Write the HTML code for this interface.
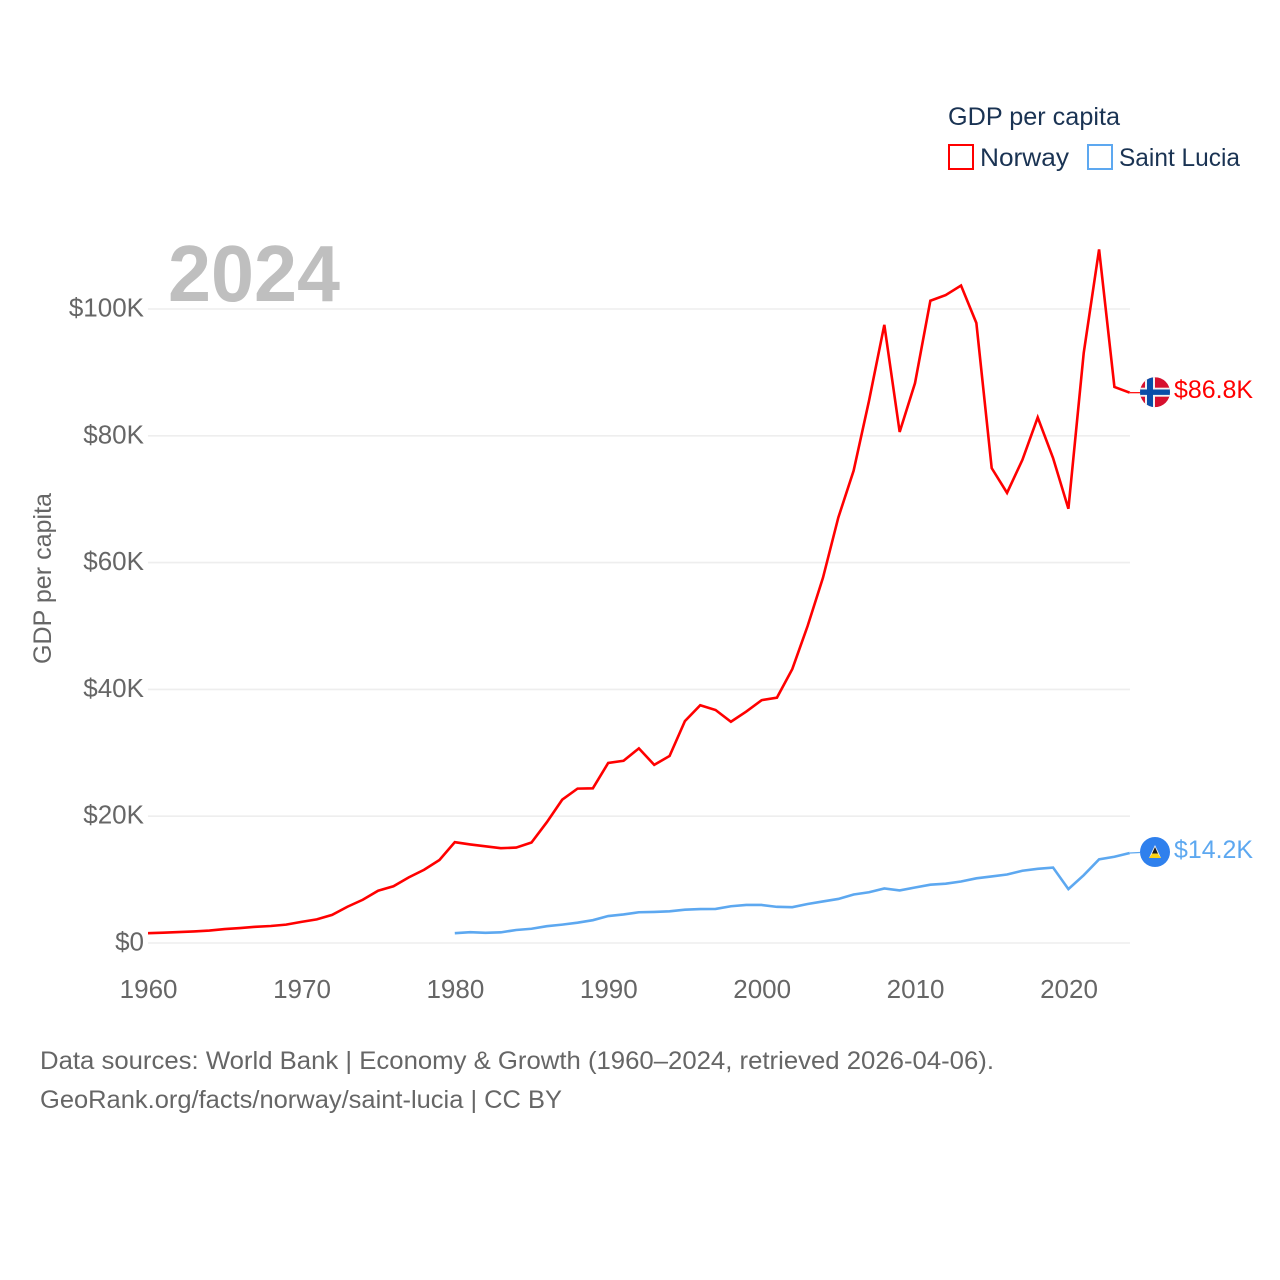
<!DOCTYPE html>
<html lang="en">
<head>
<meta charset="utf-8">
<title>GDP per capita: Norway and Saint Lucia</title>
<style>
html,body{margin:0;padding:0;background:#fff;width:1280px;height:1280px;overflow:hidden}
svg{display:block}
text{font-family:"Liberation Sans",sans-serif}
</style>
</head>
<body>
<svg id="chart" xmlns="http://www.w3.org/2000/svg" width="1280" height="1280" viewBox="0 0 1280 1280">
  <defs>
    <clipPath id="flag-clip-no"><circle cx="0" cy="0" r="15"/></clipPath>
    <clipPath id="flag-clip-lc"><circle cx="0" cy="0" r="15"/></clipPath>
  </defs>
  <rect width="1280" height="1280" fill="#fff"/>
  <g id="grid"></g>
  <g id="yticks"></g>
  <g id="xticks"></g>
  <text x="168" y="301" font-size="80" font-weight="700" fill="#bfbfbf" textLength="172" lengthAdjust="spacingAndGlyphs">2024</text>
  <text transform="translate(51,664) rotate(-90)" font-size="25" fill="#666" textLength="171" lengthAdjust="spacingAndGlyphs">GDP per capita</text>
  <g id="series"></g>
  <g id="ends"></g>

  <g>
    <text x="948" y="125" font-size="25" fill="#1a3353" textLength="172" lengthAdjust="spacingAndGlyphs">GDP per capita</text>
    <rect x="949" y="145" width="24" height="24" fill="none" stroke="#ff0000" stroke-width="2"/>
    <text x="980" y="166" font-size="25" fill="#1a3353" textLength="89" lengthAdjust="spacingAndGlyphs">Norway</text>
    <rect x="1088" y="145" width="24" height="24" fill="none" stroke="#5da8f0" stroke-width="2"/>
    <text x="1119" y="166" font-size="25" fill="#1a3353" textLength="121" lengthAdjust="spacingAndGlyphs">Saint Lucia</text>
  </g>

  <g>
    <text x="40" y="1069" font-size="25" fill="#666" textLength="954" lengthAdjust="spacingAndGlyphs">Data sources: World Bank | Economy &amp; Growth (1960–2024, retrieved 2026-04-06).</text>
    <text x="40" y="1108" font-size="25" fill="#666" textLength="522" lengthAdjust="spacingAndGlyphs">GeoRank.org/facts/norway/saint-lucia | CC BY</text>
  </g>
</svg>
<script>
const yTickValues = [0, 20, 40, 60, 80, 100];
const yTickLabels = ["$0", "$20K", "$40K", "$60K", "$80K", "$100K"];
const xTickYears = [1960, 1970, 1980, 1990, 2000, 2010, 2020];
const norwayStartYear = 1960;
const norwayValues = [1.55,1.62,1.72,1.82,1.96,2.2,2.36,2.55,2.68,2.9,3.33,3.73,4.43,5.72,6.82,8.25,8.95,10.35,11.55,13.1,15.9,15.55,15.25,14.95,15.05,15.85,19.05,22.6,24.35,24.4,28.4,28.75,30.7,28.1,29.5,35.0,37.5,36.75,34.9,36.5,38.3,38.7,43.2,50.0,57.6,67.1,74.5,85.5,97.5,80.6,88.3,101.3,102.2,103.7,97.8,74.9,71.0,76.2,82.9,76.5,68.5,93.1,109.4,87.7,86.8];
const luciaStartYear = 1980;
const luciaValues = [1.55,1.7,1.6,1.68,2.05,2.25,2.65,2.9,3.2,3.6,4.25,4.5,4.85,4.9,5.0,5.25,5.35,5.38,5.8,6.0,6.0,5.7,5.65,6.15,6.55,6.95,7.65,8.0,8.6,8.3,8.75,9.2,9.35,9.7,10.2,10.5,10.8,11.4,11.7,11.9,8.5,10.7,13.2,13.6,14.2];

const NS = "http://www.w3.org/2000/svg";
const xScale = function (year) { return 148 + (year - 1960) * 15.34; };
const yScale = function (v) { return 943 - v * 6.34; };
const make = function (tag, parent) {
  const el = document.createElementNS(NS, tag);
  parent.appendChild(el);
  return el;
};
const set = function (el, attrs) {
  Object.keys(attrs).forEach(function (k) { el.setAttribute(k, attrs[k]); });
  return el;
};
const linePoints = function (values, start) {
  return values.map(function (v, i) {
    return xScale(start + i).toFixed(2) + "," + yScale(v).toFixed(2);
  }).join(" ");
};
const money = function (v) { return "$" + v.toFixed(1) + "K"; };

const gridG = document.getElementById("grid");
const yG = document.getElementById("yticks");
const xG = document.getElementById("xticks");
const seriesG = document.getElementById("series");
const endsG = document.getElementById("ends");

yTickValues.forEach(function (v, i) {
  const g = make("line", gridG);
  
  
  set(g, { x1: 148, x2: 1130, y1: yScale(v), y2: yScale(v), stroke: "#eeeeee", "stroke-width": 1.6 });
  const t = make("text", yG);
  
  
  set(t, { x: 144, y: yScale(v) + 7.5, "text-anchor": "end", "font-size": 26, fill: "#666" });
  t.textContent = yTickLabels[i];
});

xTickYears.forEach(function (yr) {
  const t = make("text", xG);
  
  
  set(t, { x: xScale(yr) + 0.6, y: 998, "text-anchor": "middle", "font-size": 26, fill: "#666" });
  t.textContent = String(yr);
});

const norwayLine = make("polyline", seriesG);


set(norwayLine, { points: linePoints(norwayValues, norwayStartYear), fill: "none", stroke: "#ff0000", "stroke-width": 2.6, "stroke-linejoin": "miter" });

const luciaLine = make("polyline", seriesG);


set(luciaLine, { points: linePoints(luciaValues, luciaStartYear), fill: "none", stroke: "#5da8f0", "stroke-width": 2.6, "stroke-linejoin": "miter" });

/* Norway end marker */
const noLast = norwayValues[norwayValues.length - 1];
const noY = yScale(noLast);
const noConn = make("line", endsG);


set(noConn, { x1: 1130, x2: 1140, y1: noY, y2: noY, stroke: "#ff0000", "stroke-width": 1.2 });

const noFlag = make("g", endsG);


set(noFlag, { transform: "translate(1155," + (noY - 0.5) + ")", "clip-path": "url(#flag-clip-no)" });
set(make("rect", noFlag), { x: -15, y: -15, width: 30, height: 30, fill: "#d7102e" });
set(make("rect", noFlag), { x: -15, y: -4.5, width: 30, height: 9, fill: "#f3f3f3" });
set(make("rect", noFlag), { x: -10, y: -15, width: 10, height: 30, fill: "#f3f3f3" });
set(make("rect", noFlag), { x: -15, y: -2.7, width: 30, height: 5.4, fill: "#0a4ea8" });
set(make("rect", noFlag), { x: -8, y: -15, width: 6, height: 30, fill: "#0a4ea8" });

const noLabel = make("text", endsG);


set(noLabel, { x: 1174, y: noY + 5.5, "font-size": 25, fill: "#ff0000", textLength: 79, lengthAdjust: "spacingAndGlyphs" });
noLabel.textContent = money(noLast);

/* Saint Lucia end marker */
const lcLast = luciaValues[luciaValues.length - 1];
const lcY = yScale(lcLast);
const lcConn = make("line", endsG);


set(lcConn, { x1: 1130, x2: 1140, y1: lcY, y2: lcY - 0.5, stroke: "#5da8f0", "stroke-width": 1.2 });

const lcFlag = make("g", endsG);


set(lcFlag, { transform: "translate(1155," + (lcY - 1) + ")", "clip-path": "url(#flag-clip-lc)" });
set(make("rect", lcFlag), { x: -15, y: -15, width: 30, height: 30, fill: "#2f80ed" });
set(make("polygon", lcFlag), { points: "0,-7 6,6 -6,6", fill: "#f4f4f4" });
set(make("polygon", lcFlag), { points: "0,-5 3.2,2 -3.2,2", fill: "#1c1c1c" });
set(make("polygon", lcFlag), { points: "-2.8,1.5 2.8,1.5 6,6 -6,6", fill: "#fcd116" });

const lcLabel = make("text", endsG);


set(lcLabel, { x: 1174, y: lcY + 5, "font-size": 25, fill: "#5da8f0", textLength: 79, lengthAdjust: "spacingAndGlyphs" });
lcLabel.textContent = money(lcLast);
</script>
</body>
</html>
